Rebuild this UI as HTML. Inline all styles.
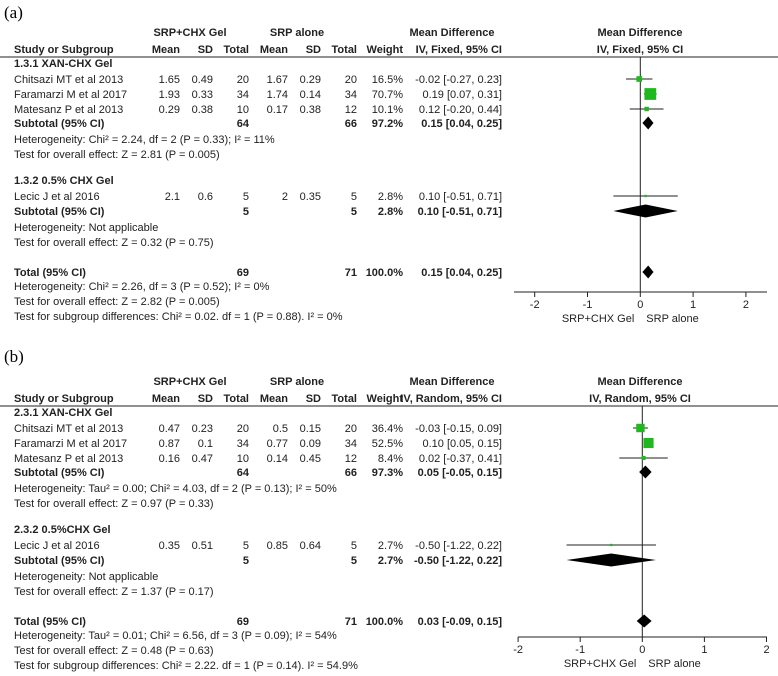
<!DOCTYPE html>
<html><head><meta charset="utf-8"><style>
body{margin:0;background:#fff;width:778px;height:676px;overflow:hidden}
svg{display:block}
text{font-family:"Liberation Sans",Arial,sans-serif;font-size:11px;fill:#222}
.b{font-weight:bold}
.lab{font-family:"Liberation Serif",serif;font-size:17px;fill:#000}
</style></head><body>
<svg id="c" width="778" height="676"></svg>
<script>
// Panel (a) data
const aStudies=["Chitsazi MT et al 2013","Faramarzi M et al 2017","Matesanz P et al 2013","Lecic J et al 2016"];
const aMean1=["1.65","1.93","0.29","2.1"];const aSD1=["0.49","0.33","0.38","0.6"];const aN1=["20","34","10","5"];
const aMean2=["1.67","1.74","0.17","2"];const aSD2=["0.29","0.14","0.38","0.35"];const aN2=["20","34","12","5"];
const aWeight=[16.5,70.7,10.1,2.8];
const aMD=[-0.02,0.19,0.12,0.10];const aLo=[-0.27,0.07,-0.20,-0.51];const aHi=[0.23,0.31,0.44,0.71];
const aSub=[[0.15,0.04,0.25],[0.10,-0.51,0.71]];const aTot=[0.15,0.04,0.25];
// Panel (b) data
const bStudies=["Chitsazi MT et al 2013","Faramarzi M et al 2017","Matesanz P et al 2013","Lecic J et al 2016"];
const bMean1=["0.47","0.87","0.16","0.35"];const bSD1=["0.23","0.1","0.47","0.51"];const bN1=["20","34","10","5"];
const bMean2=["0.5","0.77","0.14","0.85"];const bSD2=["0.15","0.09","0.45","0.64"];const bN2=["20","34","12","5"];
const bWeight=[36.4,52.5,8.4,2.7];
const bMD=[-0.03,0.10,0.02,-0.50];const bLo=[-0.15,0.05,-0.37,-1.22];const bHi=[0.09,0.15,0.41,0.22];
const bSub=[[0.05,-0.05,0.15],[-0.50,-1.22,0.22]];const bTot=[0.03,-0.09,0.15];
const ticks=[-2,-1,0,1,2];

const svg=document.getElementById('c');const NS="http://www.w3.org/2000/svg";
function el(t,a,txt){const e=document.createElementNS(NS,t);for(const k in a)e.setAttribute(k,a[k]);if(txt!==undefined)e.textContent=txt;svg.appendChild(e);return e;}
function T(x,y,s,anchor,cls,name){const e=el('text',{x:x,y:y,'text-anchor':anchor||'start','class':cls||''},s);

return e;}
const f2=v=>(v<0?'-':'')+Math.abs(v).toFixed(2);
const ci=(m,l,h)=>f2(m)+' ['+f2(l)+', '+f2(h)+']';

function panel(o){
 const d=o.dy;const X=v=>o.zero+v*o.scale;
 T(4,o.labY,o.label,'start','lab','panel-label');
 T(190,d+39,'SRP+CHX Gel','middle','b','group1-header');T(297,d+39,'SRP alone','middle','b','group2-header');
 T(452,d+39,'Mean Difference','middle','b','md-header');T(640,d+39,'Mean Difference','middle','b','plot-header');
 const cols=[[14,'Study or Subgroup','start'],[180,'Mean','end'],[213,'SD','end'],[249,'Total','end'],[288,'Mean','end'],[321,'SD','end'],[357,'Total','end'],[403,'Weight','end'],[502,o.method,'end']];
 cols.forEach(c=>T(c[0],d+56,c[1],c[2],'b','column-header'));
 T(640,d+56,o.method,'middle','b','plot-method-header');
 const hl=el('line',{x1:0,x2:778,y1:d+60,y2:d+60,stroke:'#222','stroke-width':1});
 
 const vl=el('line',{x1:X(0),x2:X(0),y1:d+60,y2:o.axisY,stroke:'#222','stroke-width':1});
 
 const rowY=[d+86,d+101,d+116,d+203];
 T(14,d+70,o.sg1,'start','b','subgroup1-title');T(14,d+187,o.sg2,'start','b','subgroup2-title');
 for(let i=0;i<4;i++){const y=rowY[i];
  T(14,y,o.st[i],'start','','study-name');
  T(180,y,o.m1[i],'end','','mean1');T(213,y,o.s1[i],'end','','sd1');T(249,y,o.n1[i],'end','','total1');
  T(288,y,o.m2[i],'end','','mean2');T(321,y,o.s2[i],'end','','sd2');T(357,y,o.n2[i],'end','','total2');
  T(403,y,o.w[i].toFixed(1)+'%','end','','weight');T(502,y,ci(o.md[i],o.lo[i],o.hi[i]),'end','','ci');
  const my=y-4;
  const ln=el('line',{x1:X(o.lo[i]),x2:X(o.hi[i]),y1:my,y2:my,stroke:'#222','stroke-width':1});
  
  const s=Math.max(2,1.4*Math.sqrt(o.w[i]));
  const r=el('rect',{x:X(o.md[i])-s/2,y:my-s/2,width:s,height:s,fill:'#1fb81f'});
  
 }
 function dia(v,y,name){const h=6.5;const p=el('polygon',{points:`${X(v[1])},${y} ${X(v[0])},${y-h} ${X(v[2])},${y} ${X(v[0])},${y+h}`,fill:'#000'});
  }
 const subY=[d+130,d+218];const subN=[[o.sn1[0],o.sn2[0],o.sw[0]],[o.sn1[1],o.sn2[1],o.sw[1]]];
 for(let g=0;g<2;g++){const y=subY[g];
  T(14,y,'Subtotal (95% CI)','start','b','subtotal-label');T(249,y,subN[g][0],'end','b','subtotal-n1');T(357,y,subN[g][1],'end','b','subtotal-n2');
  T(403,y,subN[g][2],'end','b','subtotal-weight');T(502,y,ci(o.sub[g][0],o.sub[g][1],o.sub[g][2]),'end','b','subtotal-ci');
  dia(o.sub[g],y-4,'subtotal-diamond');}
 o.notes1.forEach((s,i)=>T(14,d+146+i*15,s,'start','','note'));
 o.notes2.forEach((s,i)=>T(14,d+234+i*15,s,'start','','note'));
 const ty=d+279;
 T(14,ty,'Total (95% CI)','start','b','total-label');T(249,ty,o.tn[0],'end','b','total-n1');T(357,ty,o.tn[1],'end','b','total-n2');
 T(403,ty,'100.0%','end','b','total-weight');T(502,ty,ci(o.tot[0],o.tot[1],o.tot[2]),'end','b','total-ci');
 dia(o.tot,ty-4,'total-diamond');
 o.notes3.forEach((s,i)=>T(14,ty+14+i*15,s,'start','','note'));
 const ax=el('line',{x1:o.axL,x2:o.axR,y1:o.axisY,y2:o.axisY,stroke:'#222','stroke-width':1});
 
 ticks.forEach(t=>{const tk=el('line',{x1:X(t),x2:X(t),y1:o.axisY,y2:o.axisY+5,stroke:'#222'});
  
  T(X(t),o.axisY+16,t<0?'-'+Math.abs(t):String(t),'middle','','x-tick-label');});
 T(X(0)-6,o.axisY+30,'SRP+CHX Gel','end','','favours-left');T(X(0)+6,o.axisY+30,'SRP alone','start','','favours-right');
}
panel({label:'(a)',labY:18,dy:-3,zero:640.3,scale:52.8,axisY:292,axL:514,axR:767,method:'IV, Fixed, 95% CI',
 sg1:'1.3.1 XAN-CHX Gel',sg2:'1.3.2 0.5% CHX Gel',st:aStudies,m1:aMean1,s1:aSD1,n1:aN1,m2:aMean2,s2:aSD2,n2:aN2,w:aWeight,md:aMD,lo:aLo,hi:aHi,
 sub:aSub,tot:aTot,sn1:['64','5'],sn2:['66','5'],sw:['97.2%','2.8%'],tn:['69','71'],
 notes1:['Heterogeneity: Chi² = 2.24, df = 2 (P = 0.33); I² = 11%','Test for overall effect: Z = 2.81 (P = 0.005)'],
 notes2:['Heterogeneity: Not applicable','Test for overall effect: Z = 0.32 (P = 0.75)'],
 notes3:['Heterogeneity: Chi² = 2.26, df = 3 (P = 0.52); I² = 0%','Test for overall effect: Z = 2.82 (P = 0.005)','Test for subgroup differences: Chi² = 0.02. df = 1 (P = 0.88). I² = 0%']});
panel({label:'(b)',labY:362,dy:346,zero:642.3,scale:62.1,axisY:637,axL:518,axR:767,method:'IV, Random, 95% CI',
 sg1:'2.3.1 XAN-CHX Gel',sg2:'2.3.2 0.5%CHX Gel',st:bStudies,m1:bMean1,s1:bSD1,n1:bN1,m2:bMean2,s2:bSD2,n2:bN2,w:bWeight,md:bMD,lo:bLo,hi:bHi,
 sub:bSub,tot:bTot,sn1:['64','5'],sn2:['66','5'],sw:['97.3%','2.7%'],tn:['69','71'],
 notes1:['Heterogeneity: Tau² = 0.00; Chi² = 4.03, df = 2 (P = 0.13); I² = 50%','Test for overall effect: Z = 0.97 (P = 0.33)'],
 notes2:['Heterogeneity: Not applicable','Test for overall effect: Z = 1.37 (P = 0.17)'],
 notes3:['Heterogeneity: Tau² = 0.01; Chi² = 6.56, df = 3 (P = 0.09); I² = 54%','Test for overall effect: Z = 0.48 (P = 0.63)','Test for subgroup differences: Chi² = 2.22. df = 1 (P = 0.14). I² = 54.9%']});
</script>
</body></html>
